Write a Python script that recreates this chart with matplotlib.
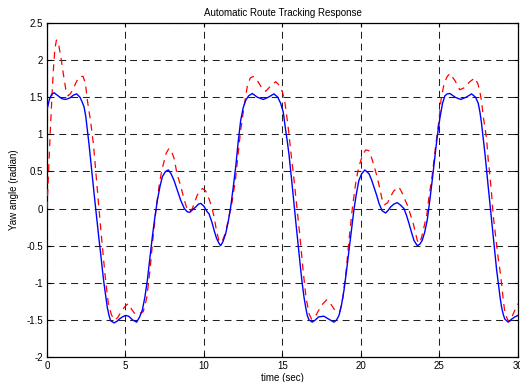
import numpy as np
import matplotlib
matplotlib.use("Agg")
import matplotlib.pyplot as plt

plt.rcParams['font.family'] = ['Liberation Sans', 'DejaVu Sans']
plt.rcParams['lines.scale_dashes'] = False

t_actual = [0.0, 0.15, 0.3, 0.45, 0.7, 0.95, 1.19, 1.45, 1.7, 1.89, 2.1, 2.25, 2.36, 2.47,
            2.57, 2.68, 2.78, 2.89, 3.0, 3.1, 3.2, 3.31, 3.42, 3.52, 3.63, 3.74, 3.84, 3.95,
            4.05, 4.27, 4.45, 4.6, 4.8, 5.0, 5.2, 5.45, 5.71, 5.9, 6.07, 6.23, 6.39, 6.55,
            6.71, 6.87, 7.03, 7.2, 7.35, 7.55, 7.73, 7.9, 8.09, 8.3, 8.52, 8.75, 8.94, 9.1,
            9.3, 9.47, 9.65, 9.8, 10.0, 10.21, 10.32, 10.5, 10.64, 10.8, 10.96, 11.06, 11.2,
            11.38, 11.55, 11.7, 11.86, 12.02, 12.18, 12.34, 12.5, 12.66, 12.85, 13.08, 13.4,
            13.78, 14.1, 14.46, 14.7, 14.88, 15.05, 15.2, 15.31, 15.41, 15.52, 15.63, 15.73,
            15.84, 15.95, 16.05, 16.16, 16.26, 16.37, 16.48, 16.58, 16.69, 16.9, 17.1, 17.3,
            17.64, 17.95, 18.28, 18.45, 18.6, 18.76, 18.92, 19.08, 19.24, 19.4, 19.55, 19.71,
            19.87, 20.05, 20.25, 20.51, 20.67, 20.83, 21.0, 21.15, 21.35, 21.57, 21.75, 21.88,
            22.1, 22.31, 22.5, 22.74, 22.9, 23.06, 23.22, 23.38, 23.59, 23.75, 23.9, 24.06,
            24.22, 24.38, 24.54, 24.7, 24.86, 25.03, 25.2, 25.35, 25.5, 25.67, 26.0, 26.35,
            26.7, 27.05, 27.3, 27.47, 27.58, 27.68, 27.79, 27.9, 28.0, 28.11, 28.22, 28.32,
            28.43, 28.54, 28.64, 28.75, 28.86, 28.96, 29.07, 29.17, 29.38, 29.6, 29.8, 30.0]
yaw_actual = [1.33, 1.47, 1.54, 1.56, 1.52, 1.48, 1.47, 1.49, 1.53, 1.545, 1.5, 1.43, 1.37, 1.24,
              1.06, 0.86, 0.65, 0.43, 0.2, 0.0, -0.2, -0.41, -0.61, -0.81, -1.01, -1.18, -1.33, -1.44,
              -1.51, -1.54, -1.52, -1.49, -1.46, -1.44, -1.45, -1.5, -1.53, -1.46, -1.37, -1.2, -0.97, -0.68,
              -0.38, -0.12, 0.11, 0.3, 0.43, 0.5, 0.52, 0.47, 0.38, 0.25, 0.11, 0.0, -0.045, -0.05,
              -0.01, 0.02, 0.06, 0.07, 0.03, -0.045, -0.07, -0.18, -0.29, -0.4, -0.47, -0.5, -0.45,
              -0.34, -0.17, 0.02, 0.28, 0.56, 0.9, 1.19, 1.36, 1.46, 1.52, 1.55, 1.5,
              1.47, 1.5, 1.545, 1.5, 1.42, 1.3, 1.06, 0.9, 0.74, 0.52, 0.29, 0.07,
              -0.16, -0.39, -0.61, -0.82, -1.01, -1.19, -1.33, -1.44, -1.5, -1.53, -1.5, -1.46,
              -1.45, -1.49, -1.53, -1.5, -1.44, -1.3, -1.1, -0.84, -0.56, -0.28, -0.02, 0.2,
              0.38, 0.47, 0.52, 0.47, 0.39, 0.29, 0.18, 0.07, -0.03, -0.06, -0.02, 0.02,
              0.06, 0.08, 0.05, 0.0, -0.09, -0.2, -0.32, -0.43, -0.5, -0.48, -0.43, -0.32,
              -0.16, 0.1, 0.38, 0.68, 0.97, 1.22, 1.42, 1.52, 1.545, 1.55, 1.5, 1.47,
              1.5, 1.545, 1.5, 1.42, 1.3, 1.15, 0.95, 0.74, 0.52, 0.29, 0.06, -0.16,
              -0.39, -0.61, -0.82, -1.01, -1.19, -1.33, -1.43, -1.49, -1.53, -1.49, -1.46, -1.44]

# red dashed: reference / commanded yaw
t_ref = [0.0, 0.1, 0.2, 0.3, 0.4, 0.5, 0.6, 0.75, 0.9, 1.05, 1.2, 1.35, 1.5, 1.7, 1.9, 2.1,
         2.3, 2.45, 2.57, 2.78, 2.95, 3.1, 3.3, 3.5, 3.7, 3.9, 4.1, 4.3, 4.5, 4.75, 5.0, 5.18,
         5.4, 5.6, 5.82, 6.13, 6.35, 6.55, 6.75, 6.95, 7.15, 7.3, 7.45, 7.6, 7.77, 7.95, 8.09,
         8.3, 8.5, 8.7, 8.94, 9.1, 9.26, 9.4, 9.57, 9.75, 9.9, 10.1, 10.32, 10.5, 10.64, 10.8,
         10.95, 11.05, 11.2, 11.38, 11.59, 11.8, 12.0, 12.15, 12.34, 12.55, 12.76, 12.95, 13.14,
         13.44, 13.7, 13.93, 14.2, 14.57, 14.8, 15.0, 15.15, 15.3, 15.41, 15.52, 15.73, 15.9,
         16.1, 16.3, 16.5, 16.7, 16.85, 17.07, 17.26, 17.5, 17.81, 18.06, 18.34, 18.5, 18.66,
         18.85, 19.05, 19.25, 19.45, 19.65, 19.8, 19.95, 20.1, 20.3, 20.5, 20.65, 20.83, 21.0,
         21.15, 21.36, 21.5, 21.7, 21.88, 22.1, 22.42, 22.6, 22.8, 22.95, 23.06, 23.33, 23.59,
         23.7, 23.85, 23.97, 24.2, 24.33, 24.54, 24.75, 24.97, 25.1, 25.29, 25.5, 25.67, 26.0,
         26.3, 26.6, 26.94, 27.26, 27.45, 27.57, 27.68, 27.79, 28.0, 28.11, 28.2, 28.32, 28.43,
         28.54, 28.65, 28.75, 28.85, 28.96, 29.07, 29.17, 29.35, 29.49, 29.7, 29.88, 30.0]
yaw_ref = [0.0, 0.5, 1.0, 1.45, 1.85, 2.15, 2.27, 2.2, 2.02, 1.8, 1.6, 1.52, 1.55, 1.63, 1.72, 1.78,
           1.78, 1.68, 1.46, 1.17, 0.88, 0.52, 0.02, -0.45, -0.9, -1.27, -1.43, -1.5, -1.47, -1.38, -1.31, -1.28,
           -1.36, -1.42, -1.42, -1.39, -1.21, -0.85, -0.4, 0.0, 0.32, 0.5, 0.63, 0.75, 0.81, 0.76, 0.68,
           0.45, 0.32, 0.15, -0.02, -0.04, 0.0, 0.08, 0.18, 0.24, 0.27, 0.24, 0.13, 0.02, -0.11, -0.3,
           -0.43, -0.46, -0.42, -0.32, -0.11, 0.1, 0.38, 0.68, 1.06, 1.37, 1.65, 1.76, 1.78,
           1.71, 1.62, 1.58, 1.64, 1.71, 1.66, 1.57, 1.44, 1.2, 1.01, 0.79, 0.4, 0.05,
           -0.35, -0.8, -1.2, -1.42, -1.49, -1.46, -1.39, -1.3, -1.23, -1.28, -1.37, -1.4, -1.39,
           -1.2, -0.85, -0.4, 0.0, 0.32, 0.5, 0.62, 0.72, 0.79, 0.78, 0.7, 0.58, 0.45,
           0.32, 0.11, 0.05, 0.08, 0.16, 0.24, 0.29, 0.22, 0.12, 0.05, -0.02, -0.2, -0.43,
           -0.47, -0.4, -0.29, -0.08, 0.15, 0.45, 0.83, 1.19, 1.46, 1.68, 1.78, 1.82, 1.72,
           1.6, 1.63, 1.71, 1.76, 1.68, 1.58, 1.45, 1.24, 0.95, 0.65, 0.48, 0.2, -0.1,
           -0.3, -0.5, -0.68, -0.82, -1.01, -1.24, -1.4, -1.5, -1.52, -1.42, -1.33, -1.28]

x_ticks = [0, 5, 10, 15, 20, 25, 30]
y_ticks = [-2, -1.5, -1, -0.5, 0, 0.5, 1, 1.5, 2, 2.5]
y_tick_labels = ['-2', '-1.5', '-1', '-0.5', '0', '0.5', '1', '1.5', '2', '2.5']

fig = plt.figure(figsize=(5.2, 3.82), dpi=100)
ax = fig.add_axes([0.0904, 0.0654, 0.9056, 0.8744])

ax.plot(t_ref, yaw_ref, color='red', lw=0.9, dashes=(5, 4), zorder=3)
ax.plot(t_actual, yaw_actual, color='blue', lw=1.0, zorder=4)

ax.set_xlim(0, 30)
ax.set_ylim(-2, 2.5)
ax.set_xticks(x_ticks)
ax.set_yticks(y_ticks)
ax.set_yticklabels(y_tick_labels)
ax.grid(True, color='#222222', lw=0.75, linestyle=(0, (5, 3.5)))
ax.tick_params(direction='in', top=True, right=True, length=3, width=0.8,
               labelsize=7, pad=3)
for s in ax.spines.values():
    s.set_linewidth(0.9)

ax.set_title('Automatic Route Tracking Response', fontsize=7, pad=5)
ax.set_xlabel('time (sec)', fontsize=7, va='center')
ax.xaxis.set_label_coords(0.5, -0.0615)
ax.set_ylabel('Yaw angle (radian)', fontsize=7, labelpad=5)

fig.savefig('out.png', dpi=100)
